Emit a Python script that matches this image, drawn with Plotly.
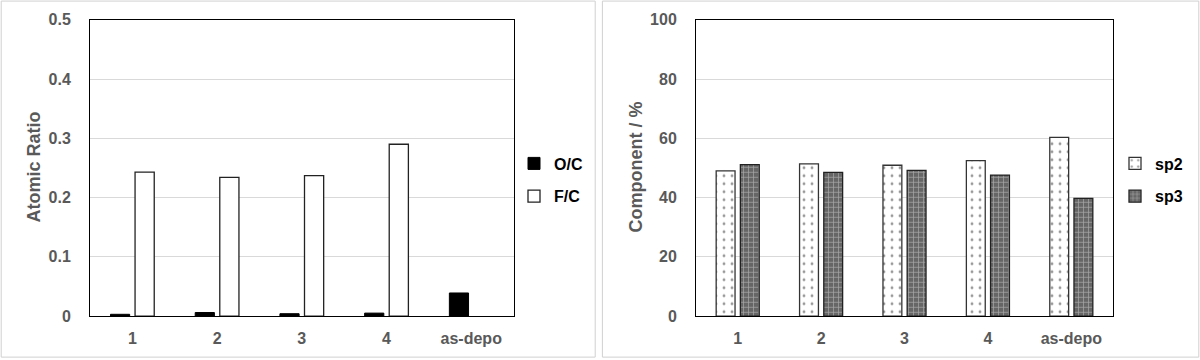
import plotly.graph_objects as go

categories = ["1", "2", "3", "4", "as-depo"]
oc_values = [0.003, 0.006, 0.004, 0.005, 0.039]
fc_values = [0.243, 0.234, 0.237, 0.290, None]
sp2_values = [49.0, 51.4, 50.9, 52.5, 60.3]
sp3_values = [51.1, 48.5, 49.2, 47.6, 39.7]
ratio_ticks = [0, 0.1, 0.2, 0.3, 0.4, 0.5]
ratio_ticktext = ["0", "0.1", "0.2", "0.3", "0.4", "0.5"]

GRAY = "#595959"
FONT = "Liberation Sans, Arial, sans-serif"

fig = go.Figure()
fig.add_trace(go.Bar(x=categories, y=oc_values, name="O/C", xaxis="x", yaxis="y",
                     marker=dict(color="black", line=dict(color="black", width=1)),
                     legend="legend", legendgroup="a"))
fig.add_trace(go.Bar(x=categories, y=fc_values, name="F/C", xaxis="x", yaxis="y",
                     marker=dict(color="white", line=dict(color="#222", width=1.3)),
                     legend="legend", legendgroup="b"))
fig.add_trace(go.Bar(x=categories, y=sp2_values, name="sp2", xaxis="x2", yaxis="y2",
                     marker=dict(color="white", line=dict(color="#333", width=1.3),
                                 pattern=dict(shape=".", fgcolor="#333", bgcolor="white",
                                              size=8, solidity=0.1)),
                     legend="legend2", legendgroup="c"))
fig.add_trace(go.Bar(x=categories, y=sp3_values, name="sp3", xaxis="x2", yaxis="y2",
                     marker=dict(color="#666666", line=dict(color="#222", width=1.3),
                                 pattern=dict(shape="+", fgcolor="#eeeeee", bgcolor="#666666",
                                              size=5, solidity=0.25)),
                     legend="legend2", legendgroup="d"))

tickfont = dict(family=FONT, size=16, color=GRAY, weight="bold")
axis_common = dict(showline=True, linecolor="black", linewidth=1, mirror=True,
                   ticks="", automargin=False, tickfont=tickfont)

legend_common = dict(yanchor="middle", y=0.5, xanchor="right",
                     font=dict(family=FONT, size=16, color="black", weight="bold"),
                     bgcolor="rgba(0,0,0,0)", tracegroupgap=9, itemwidth=30)

title_font = dict(family=FONT, size=18, color=GRAY, weight="bold")

fig.update_layout(
    width=1200, height=360,
    margin=dict(l=0, r=0, t=0, b=0, pad=0, autoexpand=False),
    paper_bgcolor="white", plot_bgcolor="white",
    barmode="group", bargap=0.42, bargroupgap=0.22,
    font=dict(family=FONT),
    xaxis=dict(domain=[0.075, 0.428], anchor="y", ticklabelstandoff=8, **axis_common),
    yaxis=dict(domain=[0.122, 0.945], anchor="x", range=[0, 0.5],
               tickmode="array", tickvals=ratio_ticks, ticktext=ratio_ticktext,
               showgrid=True, gridcolor="#d9d9d9", zeroline=False,
               ticklabelstandoff=15, **axis_common),
    xaxis2=dict(domain=[0.58, 0.9275], anchor="y2", ticklabelstandoff=8, **axis_common),
    yaxis2=dict(domain=[0.122, 0.945], anchor="x2", range=[0, 100], dtick=20,
                showgrid=True, gridcolor="#d9d9d9", zeroline=False,
                ticklabelstandoff=15, **axis_common),
    legend=dict(x=0.49, **legend_common),
    legend2=dict(x=0.99, **legend_common),
    annotations=[
        dict(text="Atomic Ratio", xref="paper", yref="paper", x=34 / 1200, y=0.535,
             textangle=-90, showarrow=False, font=title_font,
             xanchor="center", yanchor="middle"),
        dict(text="Component / %", xref="paper", yref="paper", x=636 / 1200, y=0.535,
             textangle=-90, showarrow=False, font=title_font,
             xanchor="center", yanchor="middle"),
    ],
    shapes=[
        dict(type="rect", xref="paper", yref="paper", x0=0.001, x1=0.496, y0=0.008, y1=0.997,
             line=dict(color="#d0d0d0", width=1)),
        dict(type="rect", xref="paper", yref="paper", x0=0.502, x1=0.999, y0=0.008, y1=0.997,
             line=dict(color="#d0d0d0", width=1)),
    ],
)

fig.write_html("out.html", config={"displayModeBar": False},
               post_script="document.body.style.margin='0px';")
